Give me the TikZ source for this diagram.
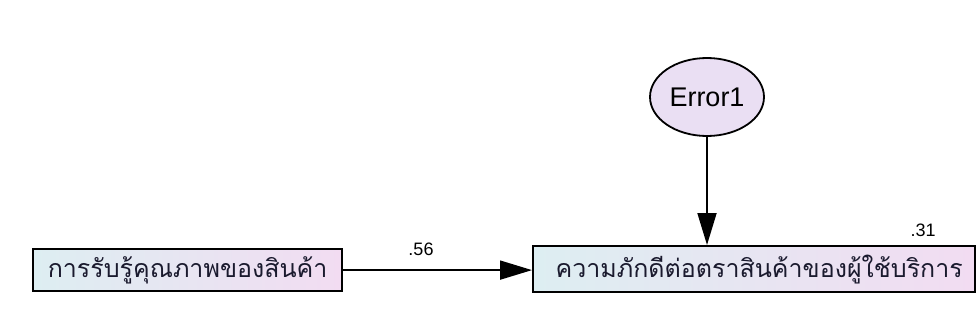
\documentclass[tikz,border=0pt]{standalone}
\usepackage{fontspec}
\setmainfont{Liberation Sans}
\newfontfamily\thaifont[Script=Thai]{Loma}
\usetikzlibrary{arrows.meta,shapes.geometric}
\tikzset{
  obsbox/.style={draw=black, line width=2.2pt, left color=boxleft, right color=boxright, inner sep=0pt, anchor=north west},
  latent/.style={ellipse, draw=black, line width=1.8pt, fill=latfill, minimum width=114pt, minimum height=78pt, inner sep=0pt, font=\fontsize{27}{28}\selectfont},
  path/.style={line width=1.8pt, -{Triangle[length=32pt,width=19pt]}},
  coef/.style={font=\fontsize{18}{19}\selectfont, inner sep=0pt},
  thai/.style={font=\thaifont\fontsize{25}{26}\selectfont, text=textcol}
}
\definecolor{boxleft}{HTML}{DDEEF2}
\definecolor{boxright}{HTML}{F2DCF2}
\definecolor{latfill}{HTML}{EADFF3}
\definecolor{textcol}{HTML}{1A1A2E}
\begin{document}
\begin{tikzpicture}[x=1pt,y=-1pt]
\useasboundingbox (0,0) rectangle (976,327);
\node[obsbox, minimum width=309pt, minimum height=42pt] (x1) at (32,248) {};
\node[thai] at (x1.center) {การรับรู้คุณภาพของสินค้า};
\node[obsbox, minimum width=442pt, minimum height=46pt] (y1) at (532,245) {};
\node[thai, anchor=west] at ([xshift=20pt]y1.west) {ความภักดีต่อตราสินค้าของผู้ใช้บริการ};
\node[latent] (e1) at (707,97) {Error1};
\draw[path] (e1.south) -- (e1.south |- y1.north);
\draw[path] (x1.east) -- (y1.west |- x1.east);
\node[coef] (c1) at (421,249) {.56};
\node[coef] (c2) at (923,230) {.31};
\end{tikzpicture}
\end{document}
